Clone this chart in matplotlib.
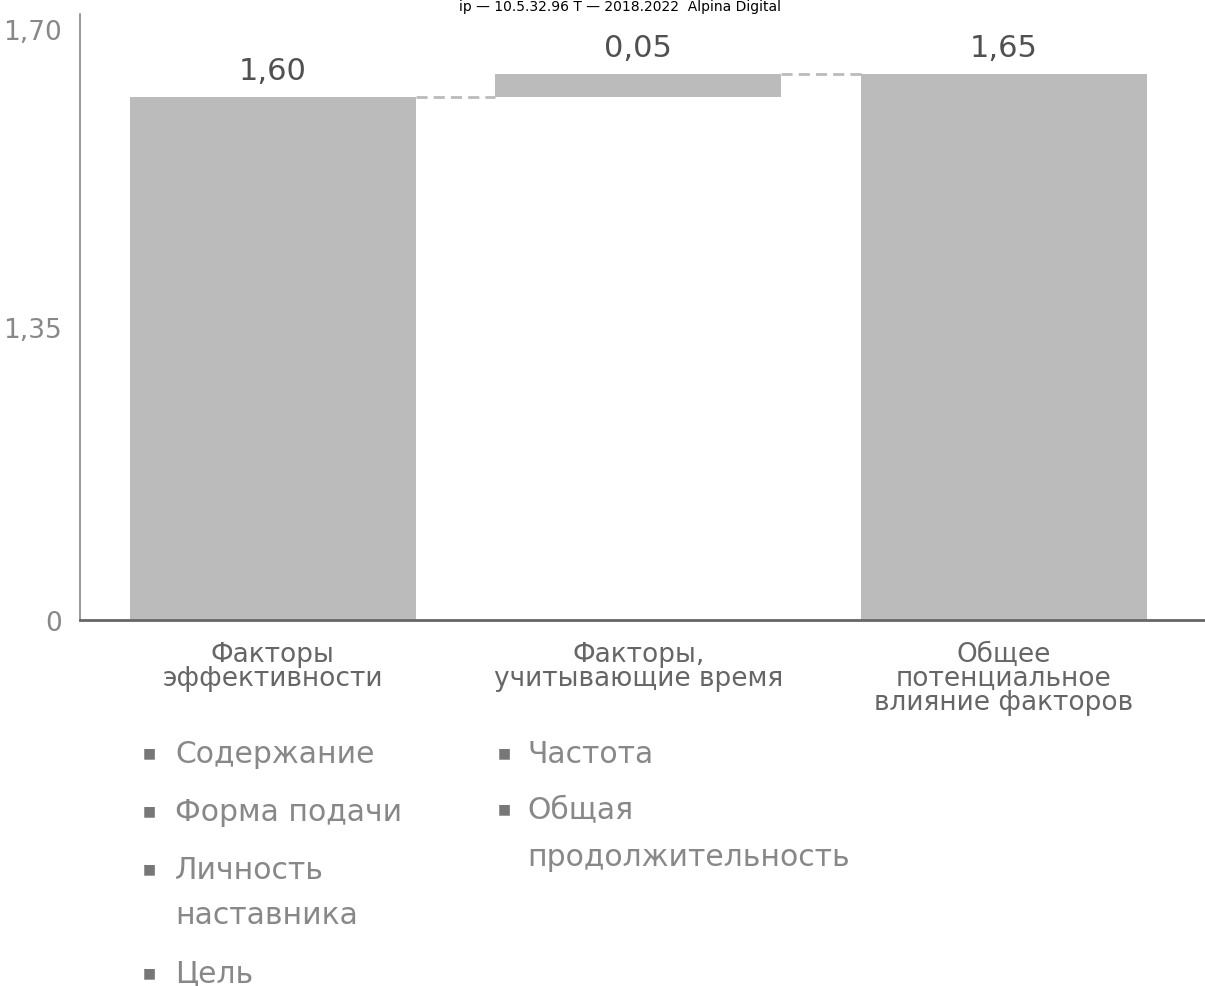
# imports
import numpy as np
import matplotlib
matplotlib.use('Agg')
import matplotlib.pyplot as plt

# Data
categories = ['Факторы\nэффективности',
              'Факторы,\nучитывающие время',
              'Общее\nпотенциальное\nвлияние факторов']
steps = [1.60, 0.05]                      # waterfall steps
total = sum(steps)                        # 1.65
values = steps + [total]
bottoms = [0, steps[0], 0]
y_ticks = [0, 1.35, 1.70]
y_ticklabels = ['0', '1,35', '1,70']
left_items = [['Содержание'], ['Форма подачи'], ['Личность', 'наставника'], ['Цель']]
right_items = [['Частота'], ['Общая', 'продолжительность']]
watermark = 'ip — 10.5.32.96 T — 2018.2022  Alpina Digital'

W, H = 1205, 987
BAR = '#bbbbbb'


def fx(x):
    return x / W


def fy(y):
    return 1 - y / H


# schematic (broken) y axis
vk = [0, 1.35, 1.60, 1.65, 1.70, 1.75]
pk = [0, 293, 523, 546, 591, 636]


def fwd(v):
    return np.interp(v, vk, pk)


def inv(p):
    return np.interp(p, pk, vk)


fig = plt.figure(figsize=(W / 100, H / 100), dpi=100)
ax = fig.add_axes([fx(80), fy(621), fx(W - 80), (621 - 15) / H])
ax.set_yscale('function', functions=(fwd, inv))

x = np.arange(len(values))
width = 0.783
tops = [b + v for b, v in zip(bottoms, values)]
ax.bar(x, values, bottom=bottoms, width=width, color=BAR, zorder=2)

# connectors
for i in range(len(values) - 1):
    ax.plot([x[i] + width / 2, x[i + 1] - width / 2], [tops[i], tops[i]],
            ls=(0, (4, 2.2)), color=BAR, lw=2, zorder=1)

# value labels
for i, v in enumerate(values):
    ax.annotate(f'{v:.2f}'.replace('.', ','), (x[i], tops[i]),
                xytext=(0, 13), textcoords='offset points',
                ha='center', va='baseline', fontsize=22, color='#505050')

ax.set_xlim(-0.528, 2.551)
ax.set_ylim(0, inv(606))
ax.set_yticks(y_ticks)
ax.set_yticklabels(y_ticklabels, fontsize=19, color='#888888')
ax.set_xticks(x)
ax.set_xticklabels(categories, fontsize=19, color='#666666', linespacing=0.9, va='top')
ax.tick_params(axis='y', length=0, pad=13)
ax.tick_params(axis='x', length=0, pad=15)
ax.minorticks_off()

for s in ['top', 'right']:
    ax.spines[s].set_visible(False)
ax.spines['left'].set_color('#888888')
ax.spines['left'].set_linewidth(1.2)
ax.spines['bottom'].set_color('#666666')
ax.spines['bottom'].set_linewidth(2)
ax.spines['bottom'].set_zorder(3)

# bullet lists
def bullets(items, xb, xt, baselines):
    k = 0
    for item in items:
        for j, line in enumerate(item):
            if j == 0:
                fig.text(fx(xb), fy(baselines[k] - 10), '■', fontsize=10, color='#777777',
                         ha='center', va='center')
            fig.text(fx(xt), fy(baselines[k]), line, fontsize=21.5, color='#888888',
                     ha='left', va='baseline')
            k += 1


bullets(left_items, 149, 175, [763, 821, 879, 924, 983])
bullets(right_items, 504, 527, [763, 819, 866])

# small watermark line at the very top
fig.text(fx(620), fy(11), watermark, fontsize=10, color='black', ha='center', va='baseline')

fig.savefig('out.png', dpi=100, facecolor='white')
